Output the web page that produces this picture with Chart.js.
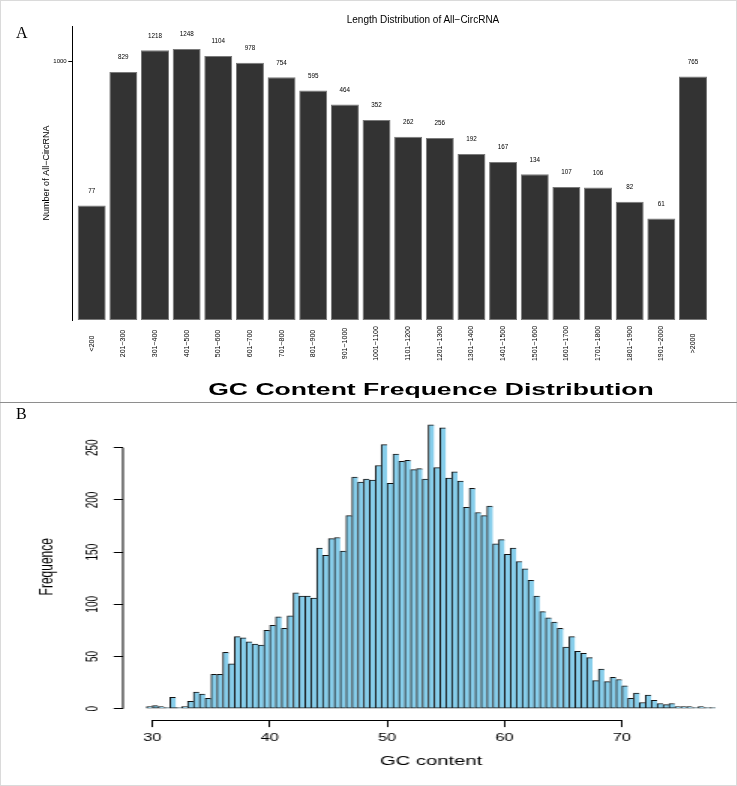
<!DOCTYPE html>
<html>
<head>
<meta charset="utf-8">
<script src="https://cdn.jsdelivr.net/npm/chart.js@4.4.1/dist/chart.umd.min.js"></script>
<style>
html,body{margin:0;padding:0;width:737px;height:786px;overflow:hidden;background:#fff;}
#frame{position:absolute;left:0;top:0;width:735px;height:784px;border:1px solid #dadada;}
#cA{position:absolute;left:0;top:0;}
#cB{position:absolute;left:0;top:372px;}
.panel{position:absolute;font-family:"Liberation Serif","DejaVu Serif",serif;font-size:16px;line-height:16px;color:#000;}
#titleA{position:absolute;left:273px;top:15px;width:300px;text-align:center;white-space:nowrap;
  font-family:"Liberation Sans",Arial,sans-serif;font-size:10px;line-height:10px;color:#000;}
#titleB{position:absolute;left:231px;top:382px;width:400px;text-align:center;white-space:nowrap;
  font-family:"Liberation Sans",Arial,sans-serif;font-weight:bold;font-size:16px;line-height:16px;color:#000;
  transform:scaleX(1.66);transform-origin:center;}
#sep{position:absolute;left:0;top:402px;width:737px;height:1px;background:#8e8e8e;}
</style>
</head>
<body>
<div id="frame"></div>
<canvas id="cA" width="737" height="400" style="width:737px;height:400px"></canvas>
<!-- panel B is drawn on a narrower canvas and stretched horizontally 1.5x, like the original figure -->
<canvas id="cB" width="506" height="414" style="width:759px;height:414px"></canvas>
<div id="titleA">Length Distribution of All−CircRNA</div>
<div id="titleB">GC Content Frequence Distribution</div>
<div id="sep"></div>
<div class="panel" style="left:16px;top:25px">A</div>
<div class="panel" style="left:16px;top:406px">B</div>
<script>
// ---------- Panel A data ----------
const lengthCategories = ["<200","201~300","301~400","401~500","501~600","601~700","701~800","801~900","901~1000","1001~1100","1101~1200","1201~1300","1301~1400","1401~1500","1501~1600","1601~1700","1701~1800","1801~1900","1901~2000",">2000"];
const lengthCounts = [77,829,1218,1248,1104,978,754,595,464,352,262,256,192,167,134,107,106,82,61,765];
const lengthYTicks = [1000];

// ---------- Panel B data ----------
const GC_BIN_START = 29.5;
const GC_BIN_WIDTH = 0.5;
const gcCounts = [2,3,2,1,11,1,2,7,16,14,10,33,33,54,43,69,68,64,62,61,
  75,80,88,77,89,111,108,108,106,154,147,163,164,151,185,222,217,220,219,233,
  253,216,244,237,238,229,230,220,272,231,269,221,227,218,193,211,188,185,194,158,
  162,148,154,141,134,123,108,93,87,83,77,59,69,55,53,49,27,38,26,30,
  28,22,10,15,6,13,8,5,4,5,2,2,2,1,2,1,1];
const gcXTicks = [30,40,50,60,70];
const gcYTicks = [0,50,100,150,200,250];

Chart.defaults.animation = false;

// value labels above bars (panel A)
const valueLabels = {
  id:'valueLabels',
  afterDatasetsDraw(chart){
    const ctx = chart.ctx, meta = chart.getDatasetMeta(0);
    ctx.save();
    ctx.font = '6.3px "Liberation Sans", Arial, sans-serif';
    ctx.fillStyle = '#000'; ctx.textAlign = 'center'; ctx.textBaseline = 'middle';
    meta.data.forEach((el,i)=>{ ctx.fillText(String(lengthCounts[i]), el.x, el.y - 14.5); });
    ctx.restore();
  }
};
// rotated, centred category labels (panel A)
const catLabels = {
  id:'catLabels',
  afterDraw(chart){
    const xs = chart.scales.x, ctx = chart.ctx;
    ctx.save();
    ctx.font = '7px "Liberation Sans", Arial, sans-serif';
    ctx.fillStyle = '#000'; ctx.textAlign = 'center'; ctx.textBaseline = 'middle';
    xs.ticks.forEach((t)=>{
      const x = xs.getPixelForValue(t.value);
      ctx.save();
      ctx.translate(x, chart.chartArea.bottom + 23.5);
      ctx.rotate(-Math.PI/2);
      ctx.fillText(lengthCategories[t.value-1], 0, 0);
      ctx.restore();
    });
    ctx.restore();
  }
};
// R-style axis lines spanning first..last tick (panel B)
const rAxes = {
  id:'rAxes',
  afterDraw(chart){
    const ctx = chart.ctx, xs = chart.scales.x, ys = chart.scales.y, ca = chart.chartArea;
    ctx.save();
    ctx.strokeStyle = '#000'; ctx.lineWidth = 1;
    ctx.beginPath();
    const lx = ca.left - 0.5;
    ctx.moveTo(lx, ys.getPixelForValue(gcYTicks[0]));
    ctx.lineTo(lx, ys.getPixelForValue(gcYTicks[gcYTicks.length-1]));
    const by = Math.round(ca.bottom) + 0.5;
    ctx.moveTo(xs.getPixelForValue(gcXTicks[0]), by);
    ctx.lineTo(xs.getPixelForValue(gcXTicks[gcXTicks.length-1]), by);
    ctx.stroke();
    ctx.restore();
  }
};

// ---------- Panel A chart ----------
new Chart(document.getElementById('cA'), {
  type:'bar',
  data:{
    datasets:[{
      data: lengthCounts.map((v,i)=>({x:i+1, y:v})),
      backgroundColor:'#333333',
      borderColor:'#7a7a7a',
      borderWidth:1,
      borderSkipped:false,
      barPercentage:0.885,
      categoryPercentage:1
    }]
  },
  options:{
    responsive:false, devicePixelRatio:1,
    layout:{padding:{top:26,right:28.2,left:0,bottom:0}},
    plugins:{legend:{display:false}, tooltip:{enabled:false}, title:{display:false}},
    scales:{
      x:{
        type:'linear', min:0.387, max:20.5, offset:false,
        afterBuildTicks:(s)=>{ s.ticks = lengthCategories.map((c,i)=>({value:i+1})); },
        afterFit:(s)=>{ s.height = 80; },
        grid:{display:false, offset:false}, border:{display:false},
        ticks:{display:false, autoSkip:false, callback:(v)=>lengthCategories[v-1]}
      },
      y:{
        type:'logarithmic', min:10, max:1880,
        afterBuildTicks:(s)=>{ s.ticks = lengthYTicks.map(v=>({value:v})); },
        afterFit:(s)=>{ s.width = 72.3; },
        grid:{display:true, drawOnChartArea:false, drawTicks:true, tickLength:4, color:'#000'},
        border:{display:true, color:'#000', width:1},
        ticks:{font:{family:'"Liberation Sans", Arial, sans-serif', size:6}, color:'#000', padding:1.6,
               callback:(v)=>String(v)},
        title:{display:true, text:'Number of All−CircRNA', color:'#000',
               font:{family:'"Liberation Sans", Arial, sans-serif', size:9}, padding:{top:41.6,bottom:0}}
      }
    }
  },
  plugins:[valueLabels, catLabels]
});

// ---------- Panel B chart ----------
new Chart(document.getElementById('cB'), {
  type:'bar',
  data:{
    datasets:[{
      data: gcCounts.map((v,i)=>({x: GC_BIN_START + (i+0.5)*GC_BIN_WIDTH, y:v})),
      backgroundColor:'#87CEEB',
      borderColor:'#111111',
      borderWidth:{top:1,left:1,right:0,bottom:1},
      borderSkipped:false,
      barPercentage:1,
      categoryPercentage:1
    }]
  },
  options:{
    responsive:false, devicePixelRatio:1,
    layout:{padding:{top:41.4,right:13.6,left:0,bottom:0}},
    plugins:{legend:{display:false}, tooltip:{enabled:false}, title:{display:false}},
    scales:{
      x:{
        type:'linear', min:27.56, max:79.94, offset:false,
        afterBuildTicks:(s)=>{ s.ticks = gcXTicks.map(v=>({value:v})); },
        afterFit:(s)=>{ s.height = 65.9; },
        grid:{display:true, offset:false, drawOnChartArea:false, drawTicks:true, tickLength:7, color:'#000'},
        border:{display:false},
        ticks:{font:{family:'"Liberation Sans", Arial, sans-serif', size:11}, color:'#000', padding:4.6, maxRotation:0, autoSkip:false},
        title:{display:true, text:'GC content', color:'#000',
               font:{family:'"Liberation Sans", Arial, sans-serif', size:13.5}, padding:{top:0,bottom:16.2}}
      },
      y:{
        min:-10.88, max:282.88,
        afterBuildTicks:(s)=>{ s.ticks = gcYTicks.map(v=>({value:v})); },
        afterFit:(s)=>{ s.width = 82.47; },
        grid:{display:true, drawOnChartArea:false, drawTicks:true, tickLength:6.67, color:'#000'},
        border:{display:false},
        ticks:{font:{family:'"Liberation Sans", Arial, sans-serif', size:10},
               color:'#000', minRotation:90, maxRotation:90, crossAlign:'center', padding:5.45},
        title:{display:true, text:'Frequence', color:'#000',
               font:{family:'"Liberation Sans", Arial, sans-serif', size:12},
               padding:{top:24.1,bottom:0}}
      }
    }
  },
  plugins:[rAxes]
});
</script>
</body>
</html>
